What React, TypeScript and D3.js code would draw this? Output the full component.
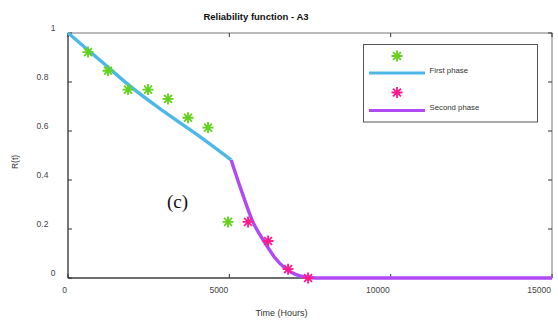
import * as d3 from "d3";

// observed points (hours, reliability)
const firstObsT = [620, 1240, 1860, 2480, 3100, 3720, 4340, 4960];
const firstObsR = [0.922, 0.846, 0.769, 0.769, 0.731, 0.654, 0.614, 0.229];
const secondObsT = [5580, 6200, 6820, 7440];
const secondObsR = [0.229, 0.151, 0.036, 0.0];

// fitted curves
const firstFitT = [0, 1000, 2000, 3000, 4000, 5056];
const firstFitR = [1.0, 0.888, 0.775, 0.677, 0.585, 0.482];
const secondFitT = [5056, 5350, 5730, 6070, 6400, 6720, 7050, 7350, 7700, 15000];
const secondFitR = [0.482, 0.366, 0.229, 0.151, 0.085, 0.041, 0.015, 0.004, 0, 0];

const xTicks = [0, 5000, 10000, 15000];
const yTicks = [0, 0.2, 0.4, 0.6, 0.8, 1];

const W = 558, H = 320;
const margin = { left: 68, right: 6, top: 33, bottom: 42 };

const GREEN = "#62d21a";
const PINK = "#ff1a8e";
const BLUE = "#4cb8e8";
const PURPLE = "#b04af2";
const FONT = "'Liberation Sans', Arial, sans-serif";

function Star({ x, y, color, r = 5.5 }: { x: number; y: number; color: string; r?: number }) {
  const d = r * 0.72;
  return (
    <path
      d={`M${x - r},${y}L${x + r},${y}M${x},${y - r}L${x},${y + r}M${x - d},${y - d}L${x + d},${y + d}M${x - d},${y + d}L${x + d},${y - d}`}
      stroke={color}
      strokeWidth={1.8}
      fill="none"
    />
  );
}

export default function App() {
  const x = d3.scaleLinear().domain([0, 15000]).range([margin.left, W - margin.right]);
  const y = d3.scaleLinear().domain([0, 1]).range([H - margin.bottom, margin.top]);

  const line = d3
    .line<[number, number]>()
    .x((d) => x(d[0]))
    .y((d) => y(d[1]))
    .curve(d3.curveMonotoneX);

  const firstFit = firstFitT.map((t, i) => [t, firstFitR[i]] as [number, number]);
  const secondFit = secondFitT.map((t, i) => [t, secondFitR[i]] as [number, number]);

  const x0 = x.range()[0], x1 = x.range()[1];
  const y0 = y.range()[0], y1 = y.range()[1];

  return (
    <svg
      width={W}
      height={H}
      style={{ position: "absolute", left: 0, top: 0, background: "#fff" }}
      fontFamily={FONT}
    >
      {/* title */}
      <text x={256} y={20} textAnchor="middle" fontSize={9.5} fontWeight="bold" fill="#111">
        Reliability function - A3
      </text>

      {/* box */}
      <rect x={x0} y={y1} width={x1 - x0} height={y0 - y1} fill="none" stroke="#777" strokeWidth={1} />
      <line x1={x0} y1={y1} x2={x0} y2={y0} stroke="#555" strokeWidth={1.3} />
      <line x1={x0} y1={y0} x2={x1} y2={y0} stroke="#555" strokeWidth={1.3} />

      {/* x ticks */}
      {xTicks.map((t) => (
        <g key={"x" + t}>
          <line x1={x(t)} x2={x(t)} y1={y0} y2={y0 - 4} stroke="#333" />
          <line x1={x(t)} x2={x(t)} y1={y1} y2={y1 + 4} stroke="#333" />
          <text x={x(t) - 1} y={293} textAnchor="end" fontSize={8.5} fill="#444">
            {String(t)}
          </text>
        </g>
      ))}

      {/* y ticks */}
      {yTicks.map((v) => {
        const lab = String(v);
        return (
          <g key={"y" + v}>
            <line x1={x0} x2={x0 + 4} y1={y(v)} y2={y(v)} stroke="#333" />
            <line x1={x1} x2={x1 - 4} y1={y(v)} y2={y(v)} stroke="#333" />
            <text x={lab.length > 1 ? 42.5 : 53} y={y(v) - 2} textAnchor="middle" fontSize={8.5} fill="#444">
              {lab}
            </text>
          </g>
        );
      })}

      {/* axis labels */}
      <text x={281.5} y={316} textAnchor="middle" fontSize={9} fill="#333">
        Time (Hours)
      </text>
      <text transform="translate(18,162) rotate(-90)" textAnchor="middle" fontSize={8.5} fill="#333">
        R(t)
      </text>

      {/* curves */}
      <path d={line(firstFit) ?? ""} fill="none" stroke={BLUE} strokeWidth={3.4} />
      <path d={line(secondFit) ?? ""} fill="none" stroke={PURPLE} strokeWidth={3.4} />

      {/* observed */}
      {firstObsT.map((t, i) => (
        <Star key={"g" + i} x={x(t)} y={y(firstObsR[i])} color={GREEN} />
      ))}
      {secondObsT.map((t, i) => (
        <Star key={"p" + i} x={x(t)} y={y(secondObsR[i])} color={PINK} />
      ))}

      {/* panel tag */}
      <text x={177.5} y={208} textAnchor="middle" fontSize={19} fontFamily="'Liberation Serif', 'Times New Roman', serif" fill="#111">
        (c)
      </text>

      {/* legend */}
      <rect x={363.5} y={44.5} width={174} height={77.5} fill="#fff" stroke="#555" strokeWidth={1} />
      <Star x={397} y={56} color={GREEN} />
      <line x1={369} x2={425} y1={73} y2={73} stroke={BLUE} strokeWidth={3} />
      <text x={429.5} y={72.5} fontSize={7.8} fill="#333">First phase</text>
      <Star x={397} y={92.5} color={PINK} />
      <line x1={369} x2={425} y1={110.5} y2={110.5} stroke={PURPLE} strokeWidth={3} />
      <text x={429.5} y={109.5} fontSize={7.8} fill="#333">Second phase</text>
    </svg>
  );
}
